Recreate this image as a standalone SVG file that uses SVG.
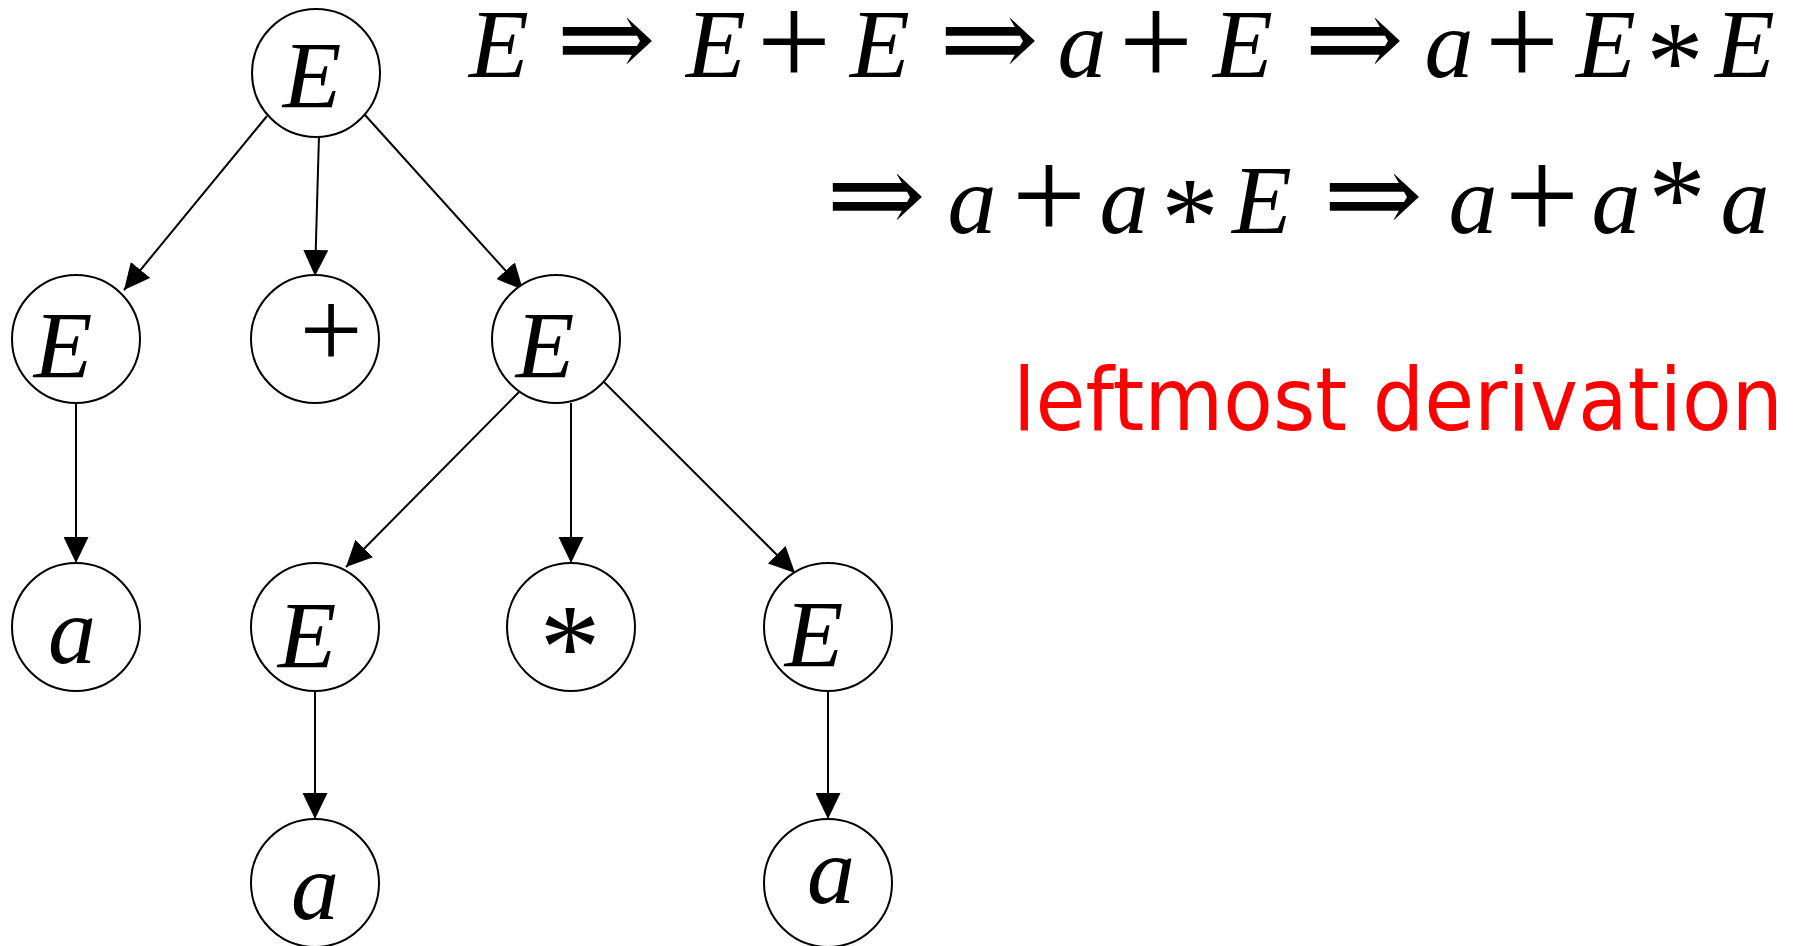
<svg xmlns="http://www.w3.org/2000/svg" width="1798" height="946" viewBox="0 0 1798 946">
<style>
.nc{fill:#fff;stroke:#000;stroke-width:2}
.nt{font-family:"Liberation Serif","Times New Roman",serif;font-style:italic;font-size:96px;fill:#000;text-anchor:middle}
.nr{font-family:"Liberation Serif","Times New Roman",serif;font-style:normal;font-size:112px;fill:#000;text-anchor:middle}
.edge{stroke:#000;stroke-width:2;fill:none;marker-end:url(#ah)}
.m{font-family:"Liberation Serif","Times New Roman",serif;font-style:italic;font-size:98px;fill:#000;text-anchor:middle}
.mr{font-family:"Liberation Serif","Times New Roman",serif;font-size:132px;fill:#000;text-anchor:middle}
.st{font-family:"Liberation Serif","Times New Roman",serif;font-size:115px;fill:#000;text-anchor:middle}
.ar{font-family:"DejaVu Serif",serif;font-size:112px;fill:#000;text-anchor:middle}
.red{font-family:"DejaVu Sans","Liberation Sans",sans-serif;font-size:88px;fill:#ff0000}
</style>
<defs>
<marker id="ah" markerUnits="userSpaceOnUse" markerWidth="27" markerHeight="25" refX="26" refY="12.5" orient="auto">
<path d="M0,0 L26,12.5 L0,25 Z" fill="#000"/>
</marker>
</defs>
<rect width="1798" height="946" fill="#fff"/>
<g id="connectors">
<line class="edge" x1="267" y1="116" x2="124" y2="290"/>
<line class="edge" x1="319" y1="135" x2="315" y2="276"/>
<line class="edge" x1="365" y1="115" x2="523" y2="290"/>
<line class="edge" x1="519" y1="392" x2="346" y2="567"/>
<line class="edge" x1="571" y1="403" x2="571" y2="563"/>
<line class="edge" x1="604" y1="382" x2="795" y2="573"/>
<line class="edge" x1="76" y1="403" x2="76" y2="563"/>
<line class="edge" x1="315" y1="691" x2="315" y2="819"/>
<line class="edge" x1="828" y1="691" x2="828" y2="819"/>
</g>
<g id="n_root"><circle class="nc" cx="316" cy="73" r="64"/><text class="nt" x="312" y="108">E</text></g>
<g id="n_E1"><circle class="nc" cx="76" cy="339" r="64"/><text class="nt" x="63" y="378">E</text></g>
<g id="n_plus"><circle class="nc" cx="315" cy="339" r="64"/><text class="nr" x="331" y="368">+</text></g>
<g id="n_E2"><circle class="nc" cx="556" cy="339" r="64"/><text class="nt" x="545" y="378">E</text></g>
<g id="n_a1"><circle class="nc" cx="76" cy="627" r="64"/><text class="nt" x="72" y="663">a</text></g>
<g id="n_E3"><circle class="nc" cx="315" cy="627" r="64"/><text class="nt" x="307" y="668">E</text></g>
<g id="n_star"><circle class="nc" cx="571" cy="627" r="64"/><text class="st" x="570" y="688" style="font-size:122px">*</text></g>
<g id="n_E4"><circle class="nc" cx="828" cy="627" r="64"/><text class="nt" x="814" y="667">E</text></g>
<g id="n_a2"><circle class="nc" cx="315" cy="883" r="64"/><text class="nt" x="315" y="919">a</text></g>
<g id="n_a3"><circle class="nc" cx="828" cy="883" r="64"/><text class="nt" x="831" y="903">a</text></g>
<g id="formula1">
<text class="m" x="499" y="77">E</text>
<text class="ar" x="606" y="77" textLength="100" lengthAdjust="spacingAndGlyphs">⇒</text>
<text class="m" x="716" y="77">E</text>
<text class="mr" x="794" y="85">+</text>
<text class="m" x="880" y="77">E</text>
<text class="ar" x="989" y="77" textLength="100" lengthAdjust="spacingAndGlyphs">⇒</text>
<text class="m" x="1082" y="77">a</text>
<text class="mr" x="1156" y="85">+</text>
<text class="m" x="1243" y="77">E</text>
<text class="ar" x="1354" y="77" textLength="100" lengthAdjust="spacingAndGlyphs">⇒</text>
<text class="m" x="1449" y="77">a</text>
<text class="mr" x="1522" y="85">+</text>
<text class="m" x="1606" y="77">E</text>
<text class="st" x="1675" y="100">*</text>
<text class="m" x="1745" y="77">E</text>
</g>
<g id="formula2">
<text class="ar" x="876" y="233" textLength="100" lengthAdjust="spacingAndGlyphs">⇒</text>
<text class="m" x="972" y="233">a</text>
<text class="mr" x="1049" y="239">+</text>
<text class="m" x="1124" y="233">a</text>
<text class="st" x="1190" y="256">*</text>
<text class="m" x="1262" y="233">E</text>
<text class="ar" x="1373" y="233" textLength="100" lengthAdjust="spacingAndGlyphs">⇒</text>
<text class="m" x="1473" y="233">a</text>
<text class="mr" x="1542" y="239">+</text>
<text class="m" x="1616" y="233">a</text>
<text class="st" x="1677" y="237">*</text>
<text class="m" x="1745" y="233">a</text>
</g>
<g id="label"><text class="red" x="1013" y="430" textLength="770" lengthAdjust="spacingAndGlyphs">leftmost derivation</text></g>
</svg>
